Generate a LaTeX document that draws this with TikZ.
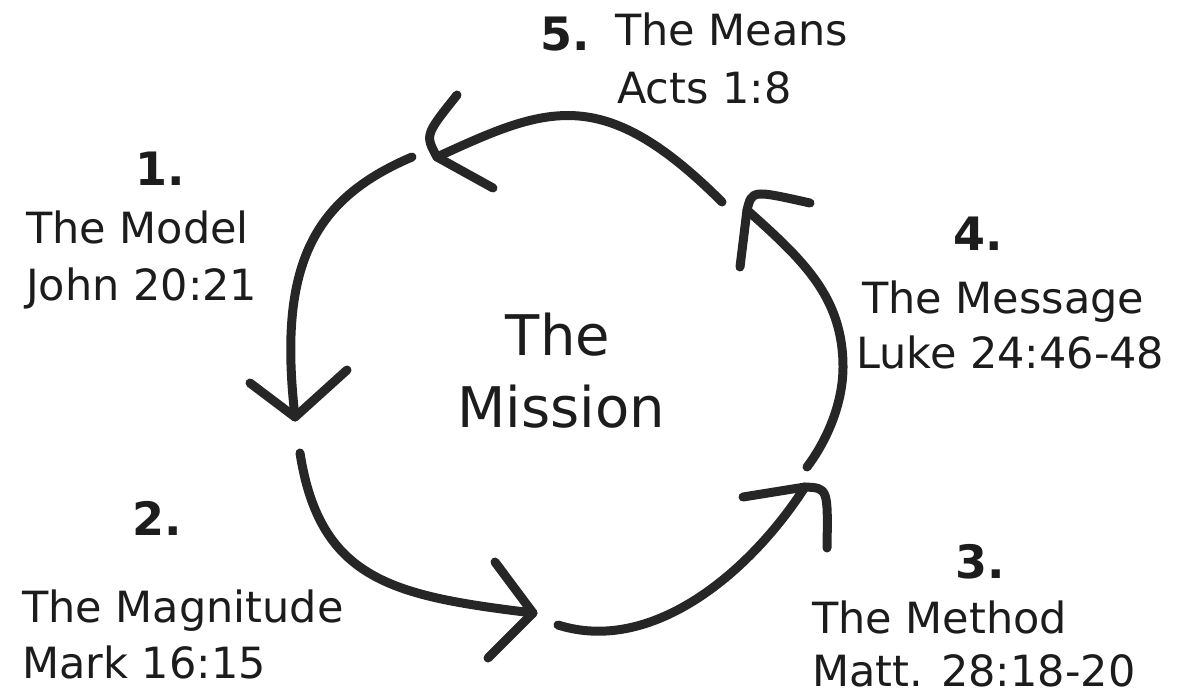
\documentclass[tikz,border=0pt]{standalone}
\usepackage{fontspec}
\setmainfont{DejaVu Sans}
\definecolor{ink}{RGB}{38,38,38}
\definecolor{txt}{RGB}{28,28,28}
\begin{document}
\begin{tikzpicture}[x=1pt,y=-1pt,
  arcline/.style={line width=9pt, draw=ink, line cap=round, line join=round},
  lbl/.style={anchor=base west, inner sep=0pt, text=txt, font=\fontsize{43}{50}\selectfont},
  num/.style={anchor=base west, inner sep=0pt, text=txt, font=\bfseries\fontsize{46}{54}\selectfont},
  ctr/.style={anchor=base, inner sep=0pt, text=txt, font=\fontsize{56}{64}\selectfont}]
\useasboundingbox (0,0) rectangle (1193,694);
\fill[white] (0,0) rectangle (1193,694);

% centre
\node[ctr] (cthe) at (558,355) {The};
\node[ctr] (cmis) at (561,427) {Mission};

% labels
\node[num] (n5) at (540,50) {5.};
\node[lbl] (l5a) at (615,45) {The Means};
\node[lbl] (l5b) at (617,103) {Acts 1:8};

\node[num] (n1) at (135,185) {1.};
\node[lbl] (l1a) at (26,243) {The Model};
\node[lbl] (l1b) at (26,300) {John 20:21};

\node[num] (n2) at (132,535) {2.};
\node[lbl] (l2a) at (22,622) {The Magnitude};
\node[lbl] (l2b) at (22,678) {Mark 16:15};

\node[num] (n3) at (955,578) {3.};
\node[lbl] (l3a) at (812,633) {The Method};
\node[lbl] (l3b) at (812,686) {Matt. 28:18-20};

\node[num] (n4) at (953,250) {4.};
\node[lbl] (l4a) at (862,313) {The Message};
\node[lbl] (l4b) at (856,368) {Luke 24:46-48};

% arc end points and arrow tips
\coordinate (s5) at (722,202); \coordinate (p5) at (437,157);
\coordinate (s1) at (412,157); \coordinate (p1) at (295,417);
\coordinate (s2) at (300,453); \coordinate (p2) at (533,613);
\coordinate (s3) at (558,625); \coordinate (p3) at (805,487);
\coordinate (s4) at (807,467); \coordinate (p4) at (747,210);
\coordinate (m4) at (843,367);

% arrowhead arm ends
\coordinate (h5a) at (457,95);  \coordinate (h5b) at (493,188);
\coordinate (h1a) at (250,383); \coordinate (h1b) at (347,370);
\coordinate (h2a) at (495,562); \coordinate (h2b) at (488,658);
\coordinate (h3a) at (743,497); \coordinate (h3b) at (827,548);
\coordinate (h4a) at (740,267); \coordinate (h4b) at (810,203);

% arcs
\draw[arcline] (s5) .. controls (602,82) and (546,107) .. (p5);
\draw[arcline] (s1) .. controls (311,200) and (278,268) .. (p1);
\draw[arcline] (s2) .. controls (320,581) and (394,596) .. (p2);
\draw[arcline] (s3) .. controls (653,655) and (751,571) .. (p3);
\draw[arcline] (s4) .. controls (828,439) and (843,402) .. (m4)
                    .. controls (843,297) and (803,260) .. (p4);

% arrowheads
\draw[arcline] (h5a) .. controls (425,135) .. (p5) -- (h5b);
\draw[arcline] (h1a) -- (p1) -- (h1b);
\draw[arcline] (h2a) -- (p2) -- (h2b);
\draw[arcline] (h3a) -- (p3) .. controls (828,488) .. (h3b);
\draw[arcline] (h4a) -- (p4) .. controls (752,190) .. (h4b);
\end{tikzpicture}
\end{document}
